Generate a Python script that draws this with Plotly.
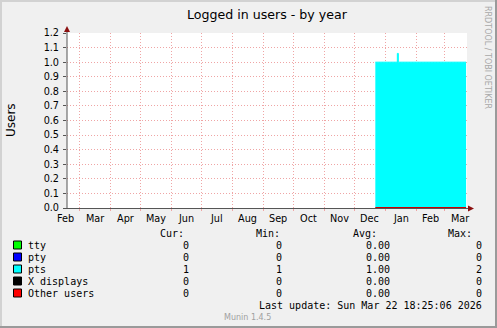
import plotly.graph_objects as go
import pandas as pd

# ---------------- data ----------------
title_text = "Logged in users - by year"
y_title = "Users"
x_range = ["2025-02-16 16:00", "2026-03-23 16:00"]
month_starts = ["2025-03-01", "2025-04-01", "2025-05-01", "2025-06-01", "2025-07-01",
                "2025-08-01", "2025-09-01", "2025-10-01", "2025-11-01", "2025-12-01",
                "2026-01-01", "2026-02-01", "2026-03-01"]
month_labels = ["Feb", "Mar", "Apr", "May", "Jun", "Jul", "Aug", "Sep", "Oct", "Nov",
                "Dec", "Jan", "Feb", "Mar"]
month_label_dates = ["2025-02-15", "2025-03-16 12:00", "2025-04-16", "2025-05-16 12:00",
                     "2025-06-16", "2025-07-16 12:00", "2025-08-16 12:00", "2025-09-16",
                     "2025-10-16 12:00", "2025-11-16", "2025-12-16 12:00",
                     "2026-01-16 12:00", "2026-02-15", "2026-03-16 12:00"]
y_range = [0, 1.2]

pts_dates = ["2025-12-22", "2026-01-13", "2026-01-14", "2026-03-22 18:00"]
pts_values = [1.0, 1.06, 1.0, 1.0]
other_dates = ["2025-12-22", "2026-03-22 18:00"]
other_values = [0.0, 0.0]

series_names = ["tty", "pty", "pts", "X displays", "Other users"]
series_colors = ["#00FF00", "#0000FF", "#00FFFF", "#000000", "#FF0000"]
cur_vals = ["0", "0", "1", "0", "0"]
min_vals = ["0", "0", "1", "0", "0"]
avg_vals = ["0.00", "0.00", "1.00", "0.00", "0.00"]
max_vals = ["0", "0", "2", "0", "0"]
last_update = "Last update: Sun Mar 22 18:25:06 2026"
footer = "Munin 1.4.5"
side_text = "RRDTOOL / TOBI OETIKER"

# ---------------- geometry helpers ----------------
FW, FH = 497, 328
L, R, T, B = 67, 467, 33, 208
W, H = R - L, B - T


def px(x):
    return (x - L) / W


def py(y):
    return (B - y) / H


x0 = pd.Timestamp(x_range[0])
x1 = pd.Timestamp(x_range[1])


def date_frac(d):
    return (pd.Timestamp(d) - x0) / (x1 - x0)


GRID = "#EFA5A5"
AXIS = "#555555"
ARROW = "#8B1010"
SANS = "DejaVu Sans"
MONO = "DejaVu Sans Mono"

fig = go.Figure()
fig.add_trace(go.Scatter(
    x=pts_dates, y=pts_values, mode="lines",
    line=dict(shape="hv", width=1, color="#00FFFF"),
    fill="tozeroy", fillcolor="#00FFFF", hoverinfo="skip"))
fig.add_trace(go.Scatter(
    x=other_dates, y=other_values, mode="lines",
    line=dict(width=2, color="#CC0000"), hoverinfo="skip"))

ann = []


def txt(x, y, s, size, family=SANS, color="#000000", xanchor="left", angle=0):
    ann.append(dict(x=px(x), y=py(y), xref="paper", yref="paper", text=s,
                    showarrow=False, borderpad=0, xanchor=xanchor, yanchor="middle",
                    textangle=angle, font=dict(family=family, size=size, color=color)))


# title and axis title
txt(267.5, 14, title_text, 12.6, xanchor="center")
txt(11, 120, y_title, 12, xanchor="center", angle=-90)
txt(488, 57, side_text, 8, color="#A8A8A8", xanchor="center", angle=90)

# month labels (centered in each month)
for lab, d in zip(month_labels, month_label_dates):
    ann.append(dict(x=date_frac(d), y=py(218.5), xref="paper", yref="paper", text=lab,
                    showarrow=False, borderpad=0, xanchor="center", yanchor="middle",
                    font=dict(family=SANS, size=9.7, color="#000000")))

# legend header
hy = 233
txt(159, hy, "Cur:", 10, MONO)
txt(255, hy, "Min:", 10, MONO)
txt(351.5, hy, "Avg:", 10, MONO)
txt(446.5, hy, "Max:", 10, MONO)

shapes = []
row_y = [245, 257, 269, 281, 293]
for i, name in enumerate(series_names):
    y = row_y[i]
    shapes.append(dict(type="rect", xref="paper", yref="paper",
                       x0=px(13.5), x1=px(21.5), y0=py(y + 4), y1=py(y - 4),
                       fillcolor=series_colors[i], line=dict(color="#000000", width=1)))
    txt(26.5, y, name, 10, MONO)
    txt(190, y, cur_vals[i], 10, MONO, xanchor="right")
    txt(282.5, y, min_vals[i], 10, MONO, xanchor="right")
    txt(390.5, y, avg_vals[i], 10, MONO, xanchor="right")
    txt(483, y, max_vals[i], 10, MONO, xanchor="right")

txt(483, 305, last_update, 10, MONO, xanchor="right")
txt(247.5, 317, footer, 8, color="#A0A0A0", xanchor="center")

# axes lines with arrows
shapes.append(dict(type="line", xref="paper", yref="paper", x0=px(67), x1=px(67),
                   y0=py(208.5), y1=py(30), line=dict(color=AXIS, width=1)))
shapes.append(dict(type="line", xref="paper", yref="paper", x0=px(66), x1=px(469),
                   y0=py(208.5), y1=py(208.5), line=dict(color=AXIS, width=1),
                   layer="between"))
shapes.append(dict(type="path", xref="paper", yref="paper",
                   path=f"M {px(64)},{py(32)} L {px(70)},{py(32)} L {px(67)},{py(26)} Z",
                   fillcolor=ARROW, line=dict(color=ARROW, width=0)))
shapes.append(dict(type="path", xref="paper", yref="paper",
                   path=f"M {px(468)},{py(205.5)} L {px(468)},{py(211.5)} L {px(474)},{py(208.5)} Z",
                   fillcolor=ARROW, line=dict(color=ARROW, width=0)))

# 3D-ish frame
fx = lambda v: (v - L) / W
shapes.append(dict(type="line", xref="paper", yref="paper", x0=fx(0), x1=fx(FW),
                   y0=py(1), y1=py(1), line=dict(color="#D2D2D2", width=2)))
shapes.append(dict(type="line", xref="paper", yref="paper", x0=fx(1), x1=fx(1),
                   y0=py(0), y1=py(FH), line=dict(color="#D2D2D2", width=2)))
shapes.append(dict(type="line", xref="paper", yref="paper", x0=fx(0), x1=fx(FW),
                   y0=py(FH - 1), y1=py(FH - 1), line=dict(color="#9A9A9A", width=2)))
shapes.append(dict(type="line", xref="paper", yref="paper", x0=fx(FW - 1), x1=fx(FW - 1),
                   y0=py(0), y1=py(FH), line=dict(color="#9A9A9A", width=2)))

fig.update_layout(
    width=FW, height=FH,
    margin=dict(l=L, r=FW - R, t=T, b=FH - B, pad=0),
    paper_bgcolor="#F0F0F0", plot_bgcolor="#FFFFFF",
    showlegend=False,
    annotations=ann, shapes=shapes,
    xaxis=dict(type="date", range=x_range, tickvals=month_starts, showticklabels=False,
               showgrid=True, gridcolor=GRID, griddash="1px,2px", gridwidth=1,
               ticks="outside", ticklen=2, tickcolor=GRID, showline=False, zeroline=False,
               fixedrange=True),
    yaxis=dict(range=y_range, dtick=0.1, tick0=0, tickformat=".1f", showgrid=True,
               gridcolor=GRID, griddash="1px,2px", gridwidth=1, ticks="outside",
               ticklen=3, tickcolor=AXIS, showline=False, zeroline=False,
               tickfont=dict(family=SANS, size=9.7, color="#000000"),
               ticklabelstandoff=2, fixedrange=True),
)

fig.write_html("out.html")
